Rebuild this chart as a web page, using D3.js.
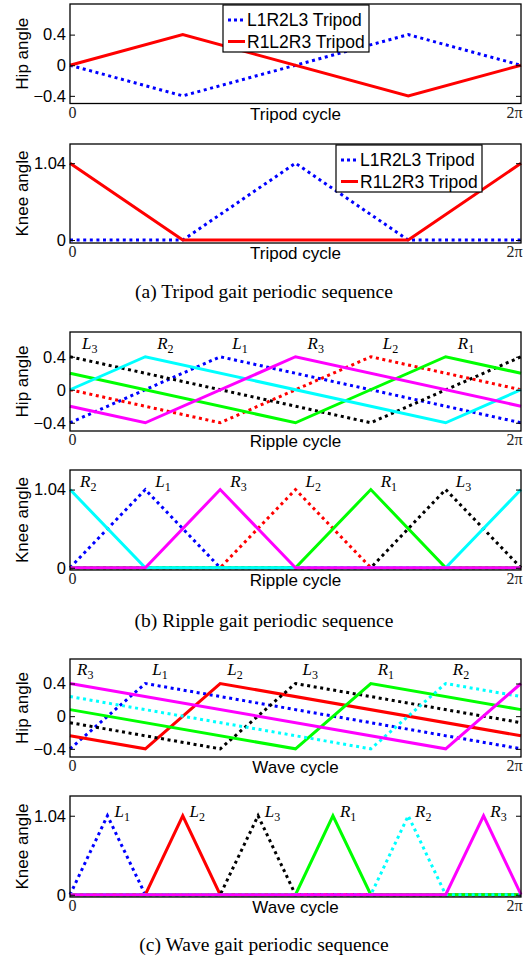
<!DOCTYPE html>
<html>
<head>
<meta charset="utf-8">
<script src="https://cdn.jsdelivr.net/npm/d3@7"></script>
<style>
  body { margin: 0; background: #fff; }
  svg { display: block; }
  .sans { font-family: "Liberation Sans", Arial, Helvetica, sans-serif; }
  .serif { font-family: "Liberation Serif", "Times New Roman", serif; }
</style>
</head>
<body>
<script>
// x is the phase as a fraction of one cycle (0 .. 2pi)
const cycleTickVals = [0, 1];
const cycleTickText = ["0", "2\u03c0"];
const hipTicks = [-0.4, 0, 0.4];
const hipTickText = ["\u22120.4", "0", "0.4"];
const kneeTicks = [0, 1.04];
const kneeTickText = ["0", "1.04"];

const legNames = ["L1", "L2", "L3", "R1", "R2", "R3"];
const legColors = ["#0000ff", "#ff0000", "#000000", "#00ff00", "#00ffff", "#ff00ff"];

// tripod gait
const tripodNames = ["L1R2L3 Tripod", "R1L2R3 Tripod"];
const tripodColors = ["#0000ff", "#ff0000"];
const tripodDotted = [true, false];
const tripodHip = [
  [[0, 0], [0.25, -0.4], [0.75, 0.4], [1, 0]],
  [[0, 0], [0.25, 0.4], [0.75, -0.4], [1, 0]]
];
const tripodKnee = [
  [[0, 0], [0.25, 0], [0.5, 1.04], [0.75, 0], [1, 0]],
  [[0, 1.04], [0.25, 0], [0.75, 0], [1, 1.04]]
];

// ripple gait (order L1 L2 L3 R1 R2 R3)
const rippleDotted = [true, true, true, false, false, false];
const rippleHip = [
  [[0, -0.4], [0.333, 0.4], [1, -0.4]],
  [[0, 0], [0.333, -0.4], [0.667, 0.4], [1, 0]],
  [[0, 0.4], [0.667, -0.4], [1, 0.4]],
  [[0, 0.2], [0.5, -0.4], [0.833, 0.4], [1, 0.2]],
  [[0, 0], [0.167, 0.4], [0.833, -0.4], [1, 0]],
  [[0, -0.2], [0.167, -0.4], [0.5, 0.4], [1, -0.2]]
];
const rippleKnee = [
  [[0, 0], [0.167, 1.04], [0.333, 0], [1, 0]],
  [[0, 0], [0.333, 0], [0.5, 1.04], [0.667, 0], [1, 0]],
  [[0, 0], [0.667, 0], [0.833, 1.04], [1, 0]],
  [[0, 0], [0.5, 0], [0.667, 1.04], [0.833, 0], [1, 0]],
  [[0, 1.04], [0.167, 0], [0.833, 0], [1, 1.04]],
  [[0, 0], [0.167, 0], [0.333, 1.04], [0.5, 0], [1, 0]]
];
const rippleHipTags = ["L3", "R2", "L1", "R3", "L2", "R1"];
const rippleKneeTags = ["R2", "L1", "R3", "L2", "R1", "L3"];

// wave gait
const waveDotted = [true, false, true, false, true, false];
const waveHip = [
  [[0, -0.4], [0.167, 0.4], [1, -0.4]],
  [[0, -0.24], [0.167, -0.4], [0.333, 0.4], [1, -0.24]],
  [[0, -0.08], [0.333, -0.4], [0.5, 0.4], [1, -0.08]],
  [[0, 0.08], [0.5, -0.4], [0.667, 0.4], [1, 0.08]],
  [[0, 0.24], [0.667, -0.4], [0.833, 0.4], [1, 0.24]],
  [[0, 0.4], [0.833, -0.4], [1, 0.4]]
];
const waveKnee = [
  [[0, 0], [0.083, 1.04], [0.167, 0], [1, 0]],
  [[0, 0], [0.167, 0], [0.25, 1.04], [0.333, 0], [1, 0]],
  [[0, 0], [0.333, 0], [0.417, 1.04], [0.5, 0], [1, 0]],
  [[0, 0], [0.5, 0], [0.583, 1.04], [0.667, 0], [1, 0]],
  [[0, 0], [0.667, 0], [0.75, 1.04], [0.833, 0], [1, 0]],
  [[0, 0], [0.833, 0], [0.917, 1.04], [1, 0]]
];
const waveHipTags = ["R3", "L1", "L2", "L3", "R1", "R2"];
const waveKneeTags = ["L1", "L2", "L3", "R1", "R2", "R3"];

const captions = [
  "(a) Tripod gait periodic sequence",
  "(b) Ripple gait periodic sequence",
  "(c) Wave gait periodic sequence"
];

const W = 526, H = 961;
const left = 70, right = 521;

const svg = d3.select("body").append("svg")
  .attr("width", W).attr("height", H);

const x = d3.scaleLinear().domain([0, 1]).range([left, right]);

function drawPanel(p) {
  const y = d3.scaleLinear().domain(p.yDomain).range([p.bottom, p.top]);
  const g = svg.append("g");

  // lines
  const line = d3.line().x(d => x(d[0])).y(d => y(d[1]));
  p.series.forEach((s, i) => {
    g.append("path")
      .attr("d", line(s))
      .attr("fill", "none")
      .attr("stroke", p.colors[i])
      .attr("stroke-width", 3)
      .attr("stroke-linejoin", "miter")
      .attr("stroke-dasharray", p.dotted[i] ? "3,3.6" : null);
  });

  // box
  g.append("rect")
    .attr("x", left).attr("y", p.top)
    .attr("width", right - left).attr("height", p.bottom - p.top)
    .attr("fill", "none").attr("stroke", "#000").attr("stroke-width", 1.3);

  const ya = g.append("g").attr("transform", `translate(${left},0)`)
    .call(d3.axisLeft(y).tickValues(p.yTicks)
      .tickFormat((d, i) => p.yTickText[i]).tickSizeInner(-5).tickSizeOuter(0).tickPadding(4));
  ya.select(".domain").remove();
  ya.selectAll("text").attr("class", "sans").attr("font-size", 16.5).attr("fill", "#000");
  const yr = g.append("g").attr("transform", `translate(${right},0)`)
    .call(d3.axisRight(y).tickValues(p.yTicks).tickFormat("").tickSizeInner(-5).tickSizeOuter(0));
  yr.select(".domain").remove();

  const xa = g.append("g").attr("transform", `translate(0,${p.bottom})`)
    .call(d3.axisBottom(x).tickValues(cycleTickVals)
      .tickFormat((d, i) => cycleTickText[i]).tickSizeInner(0).tickSizeOuter(0).tickPadding(3));
  xa.select(".domain").remove();
  xa.selectAll("text")
    .attr("class", "serif").attr("font-size", 16).attr("fill", "#222")
    .attr("text-anchor", (d, i) => i ? "end" : "middle")
    .attr("dx", (d, i) => i ? 1 : 2);

  g.append("text").attr("class", "sans")
    .attr("x", (left + right) / 2).attr("y", p.bottom + 16)
    .attr("text-anchor", "middle").attr("font-size", 17)
    .text(p.xLabel);

  g.append("text").attr("class", "sans")
    .attr("transform", `translate(28,${(p.top + p.bottom) / 2}) rotate(-90)`)
    .attr("text-anchor", "middle").attr("font-size", 17)
    .text(p.yLabel);

  if (p.legend) {
    const lg = g.append("g").attr("transform", `translate(${p.legend.x},${p.legend.y})`);
    lg.append("rect").attr("width", 146).attr("height", 47)
      .attr("fill", "#fff").attr("stroke", "#000").attr("stroke-width", 1.2);
    p.legend.names.forEach((n, i) => {
      const yy = 15 + i * 21.5;
      lg.append("line").attr("x1", 5).attr("x2", 22).attr("y1", yy).attr("y2", yy)
        .attr("stroke", p.colors[i]).attr("stroke-width", 3)
        .attr("stroke-dasharray", p.dotted[i] ? "3,3" : null);
      lg.append("text").attr("class", "sans").attr("x", 24).attr("y", yy)
        .attr("dy", "0.36em").attr("font-size", 17.5).text(n);
    });
  }

  if (p.tags) {
    p.tags.forEach((t, i) => {
      const tx = g.append("text").attr("class", "serif")
        .attr("x", x(i / 6 + p.tagShift) + p.tagDx).attr("y", p.top + p.tagDy)
        .attr("font-size", 17).attr("font-style", "italic");
      tx.append("tspan").text(t[0]);
      tx.append("tspan").attr("dy", 4).attr("font-size", 12).attr("font-style", "normal").text(t[1]);
    });
  }
}

const panels = [
  { top: 4, bottom: 103.5, yDomain: [-0.5, 0.8], yTicks: hipTicks, yTickText: hipTickText,
    yLabel: "Hip angle", xLabel: "Tripod cycle", series: tripodHip, colors: tripodColors,
    dotted: tripodDotted, legend: { x: 223, y: 5, names: tripodNames } },
  { top: 144, bottom: 243, yDomain: [-0.04, 1.3], yTicks: kneeTicks, yTickText: kneeTickText,
    yLabel: "Knee angle", xLabel: "Tripod cycle", series: tripodKnee, colors: tripodColors,
    dotted: tripodDotted, legend: { x: 336, y: 145, names: tripodNames } },
  { top: 332, bottom: 431, yDomain: [-0.5, 0.7], yTicks: hipTicks, yTickText: hipTickText,
    yLabel: "Hip angle", xLabel: "Ripple cycle", series: rippleHip, colors: legColors,
    dotted: rippleDotted, tags: rippleHipTags, tagShift: 0, tagDx: 12, tagDy: 17 },
  { top: 470, bottom: 570, yDomain: [-0.03, 1.3], yTicks: kneeTicks, yTickText: kneeTickText,
    yLabel: "Knee angle", xLabel: "Ripple cycle", series: rippleKnee, colors: legColors,
    dotted: rippleDotted, tags: rippleKneeTags, tagShift: 0, tagDx: 10, tagDy: 17 },
  { top: 659, bottom: 757, yDomain: [-0.5, 0.7], yTicks: hipTicks, yTickText: hipTickText,
    yLabel: "Hip angle", xLabel: "Wave cycle", series: waveHip, colors: legColors,
    dotted: waveDotted, tags: waveHipTags, tagShift: 0, tagDx: 7, tagDy: 16 },
  { top: 796, bottom: 897, yDomain: [-0.03, 1.3], yTicks: kneeTicks, yTickText: kneeTickText,
    yLabel: "Knee angle", xLabel: "Wave cycle", series: waveKnee, colors: legColors,
    dotted: waveDotted, tags: waveKneeTags, tagShift: 0.083, tagDx: 7, tagDy: 21 }
];

panels.forEach(drawPanel);

const capY = [298, 627, 951];
captions.forEach((c, i) => {
  svg.append("text").attr("class", "serif")
    .attr("x", 264).attr("y", capY[i])
    .attr("text-anchor", "middle").attr("font-size", 19.5)
    .text(c);
});
</script>
</body>
</html>
